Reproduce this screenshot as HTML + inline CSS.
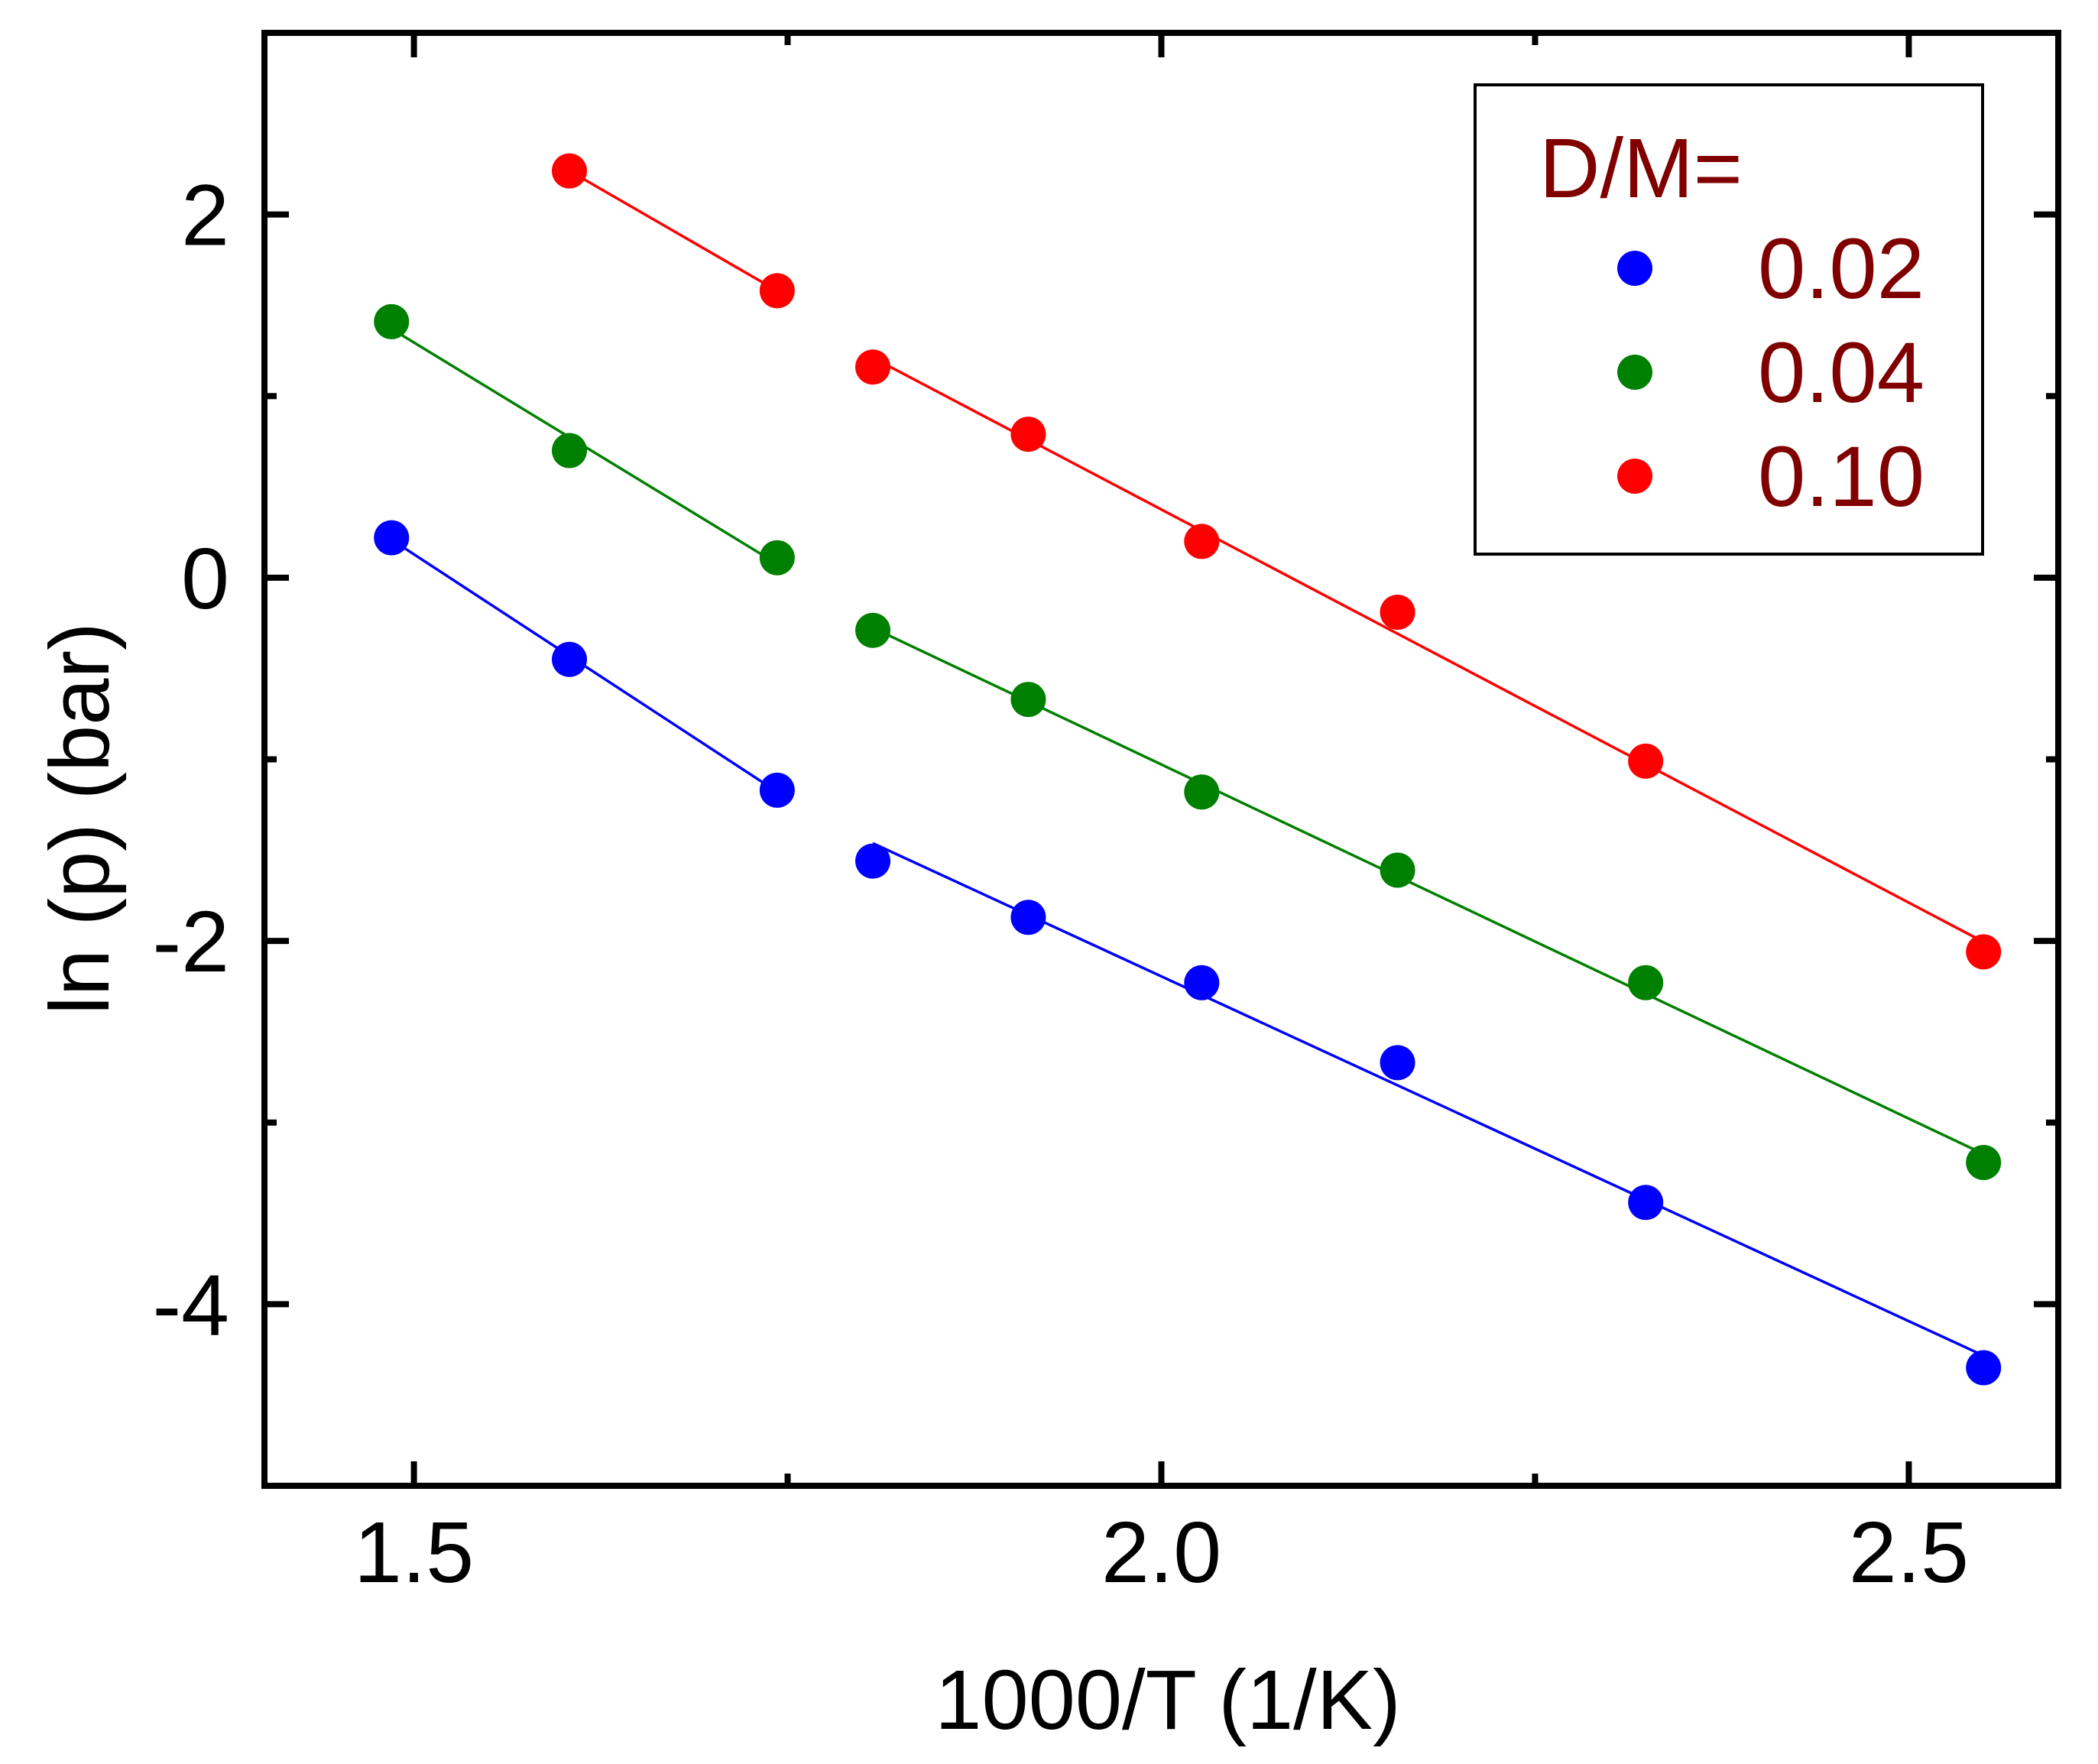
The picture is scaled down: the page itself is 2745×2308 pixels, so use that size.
<!DOCTYPE html>
<html><head><meta charset="utf-8"><style>
html,body{margin:0;padding:0;background:#fff;}
svg{display:block;font-family:"Liberation Sans",Arial,sans-serif;}
</style></head><body>
<svg id="chart" width="2745" height="2308" viewBox="0 0 2745 2308" xmlns="http://www.w3.org/2000/svg">
<g id="fits"></g>
<g id="points"></g>
<g id="axes"></g>
<g>
<rect x="1930" y="111" width="664" height="614" fill="#fff" stroke="#000" stroke-width="4"/>
<text x="2014" y="258" font-size="110" fill="#800000">D/M=</text>
<circle cx="2139" cy="351" r="23" fill="#0000ff"/>
<text x="2300" y="390" font-size="112" fill="#800000">0.02</text>
<circle cx="2139" cy="487" r="23" fill="#008000"/>
<text x="2300" y="526" font-size="112" fill="#800000">0.04</text>
<circle cx="2139" cy="623" r="23" fill="#ff0000"/>
<text x="2300" y="662" font-size="112" fill="#800000">0.10</text>
</g>
<text x="1528" y="2262" font-size="110" text-anchor="middle">1000/T (1/K)</text>
<text transform="translate(142,1071) rotate(-90)" font-size="110" text-anchor="middle">ln (p) (bar)</text>
</svg>
<script>
const xTicks = [1.5, 2.0, 2.5];
const xTickLabels = ["1.5", "2.0", "2.5"];
const yTicks = [-4, -2, 0, 2];
const yTickLabels = ["-4", "-2", "0", "2"];
const blueX = [1.485, 1.604, 1.743, 1.807, 1.911, 2.027, 2.158, 2.324, 2.550];
const blueY = [0.22, -0.45, -1.17, -1.56, -1.87, -2.23, -2.67, -3.44, -4.35];
const greenX = [1.485, 1.604, 1.743, 1.807, 1.911, 2.027, 2.158, 2.324, 2.550];
const greenY = [1.41, 0.70, 0.11, -0.29, -0.67, -1.18, -1.61, -2.23, -3.22];
const redX = [1.604, 1.743, 1.807, 1.911, 2.027, 2.158, 2.324, 2.550];
const redY = [2.24, 1.58, 1.16, 0.79, 0.20, -0.19, -1.01, -2.06];
const blueSegs = [[0,2],[3,8]];
const greenSegs = [[0,2],[3,8]];
const redSegs = [[0,1],[2,7]];

const X0=1.4, X1=2.6, Y0=-5, Y1=3;
const PL=346, PR=2693, PT=43, PB=1944;
const sx = v => PL + (v - X0) / (X1 - X0) * (PR - PL);
const sy = v => PB - (v - Y0) / (Y1 - Y0) * (PB - PT);
const NS = "http://www.w3.org/2000/svg";
function mk(tag, attrs, parent) {
  const e = document.createElementNS(NS, tag);
  for (const k in attrs) e.setAttribute(k, attrs[k]);
  parent.appendChild(e);
  return e;
}
const axes = document.getElementById('axes');
const frame = mk('rect', {x:PL, y:PT, width:PR-PL, height:PB-PT, fill:'none', stroke:'#000', 'stroke-width':8}, axes);


for (let v = 1.5; v <= 2.5001; v += 0.25) {
  const major = Math.abs((v * 2) - Math.round(v * 2)) < 1e-6;
  const len = major ? 32 : 16;
  const x = sx(v);
  const t1 = mk('line', {x1:x, x2:x, y1:PB, y2:PB-len, stroke:'#000', 'stroke-width':8}, axes);
  
  
  const t2 = mk('line', {x1:x, x2:x, y1:PT, y2:PT+len, stroke:'#000', 'stroke-width':8}, axes);
  
  
}
xTicks.forEach((v, i) => {
  const t = mk('text', {x:sx(v), y:2070, 'font-size':113, 'text-anchor':'middle'}, axes);
  t.textContent = xTickLabels[i];
  
  
});
for (let v = -4; v <= 2; v += 1) {
  const major = v % 2 === 0;
  const len = major ? 32 : 16;
  const y = sy(v);
  const t1 = mk('line', {x1:PL, x2:PL+len, y1:y, y2:y, stroke:'#000', 'stroke-width':8}, axes);
  
  
  const t2 = mk('line', {x1:PR, x2:PR-len, y1:y, y2:y, stroke:'#000', 'stroke-width':8}, axes);
  
  
}
yTicks.forEach((v, i) => {
  const t = mk('text', {x:300, y:sy(v)+40, 'font-size':113, 'text-anchor':'end'}, axes);
  t.textContent = yTickLabels[i];
  
  
});
const fits = document.getElementById('fits');
const pts = document.getElementById('points');
function series(xs, ys, segs, color, name) {
  segs.forEach(([a, b]) => {
    let n = 0, mx = 0, my = 0;
    for (let i = a; i <= b; i++) { n++; mx += xs[i]; my += ys[i]; }
    mx /= n; my /= n;
    let sxy = 0, sxx = 0;
    for (let i = a; i <= b; i++) { sxy += (xs[i]-mx)*(ys[i]-my); sxx += (xs[i]-mx)**2; }
    const m = sxy / sxx, c = my - m * mx;
    const l = mk('line', {x1:sx(xs[a]), y1:sy(m*xs[a]+c), x2:sx(xs[b]), y2:sy(m*xs[b]+c), stroke:color, 'stroke-width':3.5}, fits);
    
    
  });
  xs.forEach((x, i) => {
    const p = mk('circle', {cx:sx(x), cy:sy(ys[i]), r:23, fill:color}, pts);
    
    
  });
}
series(blueX, blueY, blueSegs, '#0000ff', 'dm-002');
series(greenX, greenY, greenSegs, '#008000', 'dm-004');
series(redX, redY, redSegs, '#ff0000', 'dm-010');
</script>
</body></html>
